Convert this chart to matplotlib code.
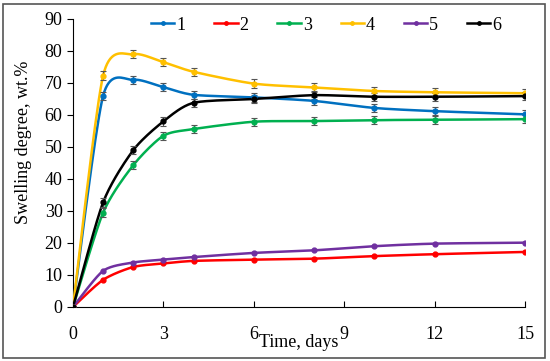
import numpy as np
import matplotlib.pyplot as plt
from matplotlib.patches import Rectangle

# Data
days = [0, 1, 2, 3, 4, 6, 8, 10, 12, 15]
s1 = [0, 66.0, 71.0, 68.7, 66.3, 65.5, 64.4, 62.2, 61.2, 60.2]
s2 = [0, 8.5, 12.5, 13.6, 14.4, 14.8, 15.1, 15.9, 16.5, 17.2]
s3 = [0, 29.5, 44.3, 53.5, 55.6, 57.9, 58.1, 58.4, 58.5, 58.7]
s4 = [0, 72.3, 79.0, 76.5, 73.5, 69.8, 68.6, 67.5, 67.1, 66.8]
s5 = [0, 11.3, 13.9, 14.8, 15.6, 16.9, 17.7, 19.0, 19.8, 20.1]
s6 = [0, 32.7, 49.0, 58.0, 63.8, 65.0, 66.2, 65.7, 65.7, 65.9]
err = [0, 1.3, 1.3, 1.3, 1.3, 1.3, 1.3, 1.3, 1.3, 1.3]

series = [("1", s1, "#0070C0", True), ("2", s2, "#FF0000", False),
          ("3", s3, "#00B050", True), ("4", s4, "#FFC000", True),
          ("5", s5, "#7030A0", False), ("6", s6, "#000000", True)]


def smooth(x, y, n=20, k=8):
    # Bezier curve through the points, like Excel's smoothed line
    x = np.asarray(x, float)
    y = np.asarray(y, float)
    px = np.concatenate([[x[0]], x, [x[-1]]])
    py = np.concatenate([[y[0]], y, [y[-1]]])
    xs, ys = [], []
    t = np.linspace(0, 1, n)
    for i in range(1, len(px) - 2):
        for p, out in ((px, xs), (py, ys)):
            p0, p1, p2, p3 = p[i - 1], p[i], p[i + 1], p[i + 2]
            m1 = (p2 - p0) / k
            m2 = (p3 - p1) / k
            c = ((1 - t) ** 3 * p1 + 3 * (1 - t) ** 2 * t * (p1 + m1)
                 + 3 * (1 - t) * t ** 2 * (p2 - m2) + t ** 3 * p2)
            out.extend(c)
    return xs, ys


plt.rcParams['font.family'] = ['Liberation Serif', 'DejaVu Serif']

fig = plt.figure(figsize=(5.5, 3.61), dpi=100)
ax = fig.add_axes([0.1327, 0.1496, 0.8218, 0.7978])
fig.patches.append(Rectangle((0.006, 0.009), 0.985, 0.98, transform=fig.transFigure,
                             fill=False, edgecolor="#555555", linewidth=1.2))

for name, vals, col, has_err in series:
    xs, ys = smooth(days, vals)
    ax.plot(xs, ys, color=col, lw=1.8, zorder=3)
    if has_err:
        ax.errorbar(days[1:], vals[1:], yerr=err[1:], fmt="none", ecolor="#555555",
                    elinewidth=0.8, capsize=2, capthick=0.8, zorder=4)
    ax.plot(days, vals, "o", color=col, ms=3.5, zorder=5)
    ax.plot([], [], "-o", color=col, lw=1.8, ms=2.5, label=name)

ax.set_xlim(0, 15)
ax.set_ylim(0, 90)
ax.set_xticks([0, 3, 6, 9, 12, 15])
ax.set_yticks(range(0, 91, 10))
ax.tick_params(axis="x", direction="in", length=4, labelsize=13, pad=14)
ax.tick_params(axis="y", direction="out", length=4, labelsize=13)
ax.spines["top"].set_visible(False)
ax.spines["right"].set_visible(False)
ax.set_xlabel("Time, days", fontsize=13)
ax.xaxis.set_label_coords(0.5, -0.095)
ax.set_ylabel("Swelling degree, wt.%", fontsize=13)
ax.yaxis.set_label_coords(-0.091, 0.573)

ax.legend(loc="center", bbox_to_anchor=(0.56, 0.979), ncol=6, frameon=False,
          fontsize=13, handlelength=1.3, handletextpad=0.1, columnspacing=1.6,
          borderpad=0)

fig.savefig("out.png", dpi=100)
